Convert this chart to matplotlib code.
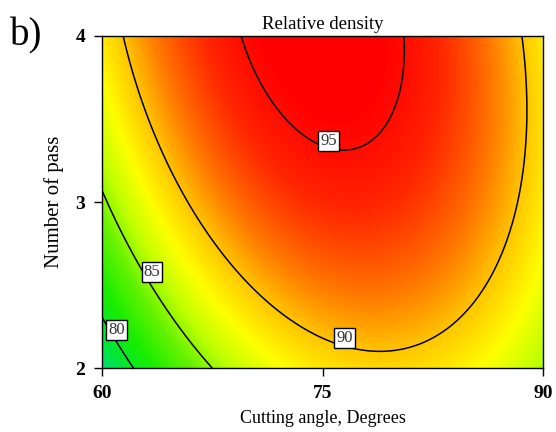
import numpy as np
import matplotlib
matplotlib.use("Agg")
import matplotlib.pyplot as plt
from matplotlib.colors import LinearSegmentedColormap, Normalize

# Axis ranges and ticks
angle_range = [60, 90]          # Cutting angle, degrees
pass_range = [2, 4]             # Number of pass
x_ticks = [60, 75, 90]
y_ticks = [2, 3, 4]

# Quadratic response-surface model in coded units (a=(A-75)/15, b=B-3)
# order: intercept, a, b, a*b, a^2, b^2
model_coefs = [93.97, 2.01, 3.575, -2.01, -7.34, -1.545]

contour_levels = [80, 85, 90, 95]
label_positions = [(61.0, 2.23), (63.4, 2.58), (76.5, 2.18), (75.4, 3.37)]

# colour map anchors (value, rgb)
cmap_values = [77.0, 79.0, 81.5, 84.0, 86.0, 88.0, 90.0, 92.0, 94.0, 95.5]
cmap_colors = [(0.0, 0.87, 0.55), (0.0, 0.9, 0.25), (0.1, 0.93, 0.0),
               (0.4, 0.95, 0.0), (0.75, 1.0, 0.0), (1.0, 1.0, 0.0),
               (1.0, 0.78, 0.0), (1.0, 0.45, 0.0), (1.0, 0.15, 0.0),
               (1.0, 0.0, 0.0)]

vmin, vmax = cmap_values[0], cmap_values[-1]
cmap = LinearSegmentedColormap.from_list(
    "rd", [((v - vmin) / (vmax - vmin), c) for v, c in zip(cmap_values, cmap_colors)])

A = np.linspace(angle_range[0], angle_range[1], 300)
B = np.linspace(pass_range[0], pass_range[1], 300)
AA, BB = np.meshgrid(A, B)
a = (AA - 75) / 15
b = BB - 3
c = model_coefs
Z = c[0] + c[1]*a + c[2]*b + c[3]*a*b + c[4]*a**2 + c[5]*b**2

plt.rcParams['font.family'] = ['Liberation Serif', 'DejaVu Serif']
fig = plt.figure(figsize=(5.56, 4.32), dpi=100)
ax = fig.add_axes([0.1835, 0.1481, 0.9766 - 0.1835, 0.9167 - 0.1481])

ax.pcolormesh(AA, BB, np.clip(Z, vmin, vmax), cmap=cmap, norm=Normalize(vmin, vmax),
              shading='gouraud', rasterized=True)
cs = ax.contour(AA, BB, Z, levels=contour_levels, colors='black', linewidths=1.1)
labels = ax.clabel(cs, inline=False, fmt='%d', fontsize=12, manual=label_positions)
for t in labels:
    t.set_rotation(0)
    t.set_bbox(dict(boxstyle='square,pad=0.12', facecolor='white', edgecolor='black', linewidth=1.0))
    t.set_color('#333333')
    # place the box where the reference shows it
    tx, ty = t.get_position()
    best = min(label_positions, key=lambda p: (p[0] - tx) ** 2 + ((p[1] - ty) * 7.5) ** 2)
    t.set_position(best)

ax.set_xlim(angle_range)
ax.set_ylim(pass_range)
ax.set_xticks(x_ticks)
ax.set_yticks(y_ticks)
ax.tick_params(direction='out', length=6, width=1.0, labelsize=14, pad=6)
for lab in ax.get_xticklabels() + ax.get_yticklabels():
    lab.set_fontweight('bold')
for s in ax.spines.values():
    s.set_linewidth(1.0)

ax.set_title('Relative density', fontsize=13.5, pad=5)
ax.set_xlabel('Cutting angle, Degrees', fontsize=13, labelpad=6)
ax.set_ylabel('Number of pass', fontsize=15, labelpad=8)
fig.text(0.018, 0.96, 'b)', fontsize=28, va='top', ha='left')

fig.savefig('out.png', dpi=100)
